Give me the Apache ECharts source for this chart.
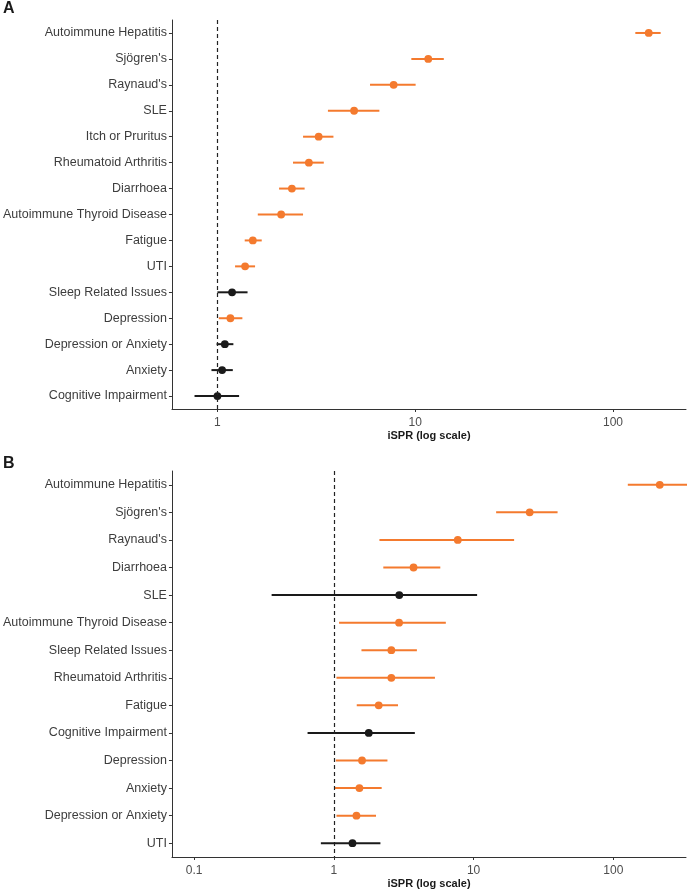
<!DOCTYPE html>
<html><head><meta charset="utf-8">
<script src="https://cdn.jsdelivr.net/npm/echarts@6/dist/echarts.min.js"></script>
<style>html,body{margin:0;padding:0;background:#fff}#c{width:690px;height:890px}</style>
</head><body><div id="c"></div>
<script>
// ---------- Panel A ----------
const categoriesA = ["Autoimmune Hepatitis","Sjögren's","Raynaud's","SLE","Itch or Pruritus","Rheumatoid Arthritis","Diarrhoea","Autoimmune Thyroid Disease","Fatigue","UTI","Sleep Related Issues","Depression","Depression or Anxiety","Anxiety","Cognitive Impairment"];
const estimateA = [151.6, 11.64, 7.78, 4.91, 3.25, 2.90, 2.38, 2.10, 1.51, 1.38, 1.186, 1.163, 1.09, 1.056, 1.00];
const lowerA    = [129.7, 9.56, 5.91, 3.62, 2.71, 2.41, 2.05, 1.60, 1.374, 1.228, 1.00, 1.016, 0.99, 0.933, 0.766];
const upperA    = [174.2, 13.95, 10.05, 6.59, 3.86, 3.45, 2.76, 2.71, 1.675, 1.55, 1.42, 1.337, 1.204, 1.196, 1.287];
const significantA = [1,1,1,1,1,1,1,1,1,1,0,1,0,0,0];
const xTicksA = [1, 10, 100];

// ---------- Panel B ----------
const categoriesB = ["Autoimmune Hepatitis","Sjögren's","Raynaud's","Diarrhoea","SLE","Autoimmune Thyroid Disease","Sleep Related Issues","Rheumatoid Arthritis","Fatigue","Cognitive Impairment","Depression","Anxiety","Depression or Anxiety","UTI"];
const estimateB = [214.8, 25.2, 7.71, 3.72, 2.94, 2.93, 2.58, 2.58, 2.095, 1.778, 1.592, 1.525, 1.452, 1.36];
const lowerB    = [126.9, 14.5, 2.12, 2.26, 0.359, 1.09, 1.577, 1.045, 1.459, 0.649, 1.033, 1.005, 1.045, 0.808];
const upperB    = [380, 39.9, 19.5, 5.78, 10.6, 6.33, 3.93, 5.29, 2.88, 3.80, 2.42, 2.20, 2.004, 2.155];
const significantB = [1,1,1,1,0,1,1,1,1,0,1,1,1,0];
const xTicksB = [0.1, 1, 10, 100];

const axisTitle = "iSPR (log scale)";
const refValue = 1;

const ORANGE = '#F47A2E';
const BLACK = '#1a1a1a';
const FONT = '"Liberation Sans", Arial, sans-serif';

function rows(est, lo, hi, sig){
  return est.map((e, i) => [i, lo[i], hi[i], e, sig[i]]);
}
function renderCI(params, api){
  const y = api.value(0);
  const a = api.coord([api.value(1), y]);
  const b = api.coord([api.value(2), y]);
  const c = api.coord([api.value(3), y]);
  const color = api.value(4) ? ORANGE : BLACK;
  return {type:'group', children:[
    {type:'line', shape:{x1:a[0], y1:a[1], x2:b[0], y2:b[1]}, style:{stroke:color, lineWidth:2}},
    {type:'circle', shape:{cx:c[0], cy:c[1], r:3.9}, style:{fill:color}}
  ]};
}
function xAxisFor(idx, min, max, ticks){
  return {
    gridIndex: idx, type:'log', logBase:10, min:min, max:max,
    axisLine:{show:true, lineStyle:{color:'#333', width:1}},
    axisTick:{show:true, length:3, lineStyle:{color:'#333'}, customValues: ticks},
    axisLabel:{color:'#4d4d4d', fontSize:12, fontFamily:FONT, margin:8, customValues: ticks,
      formatter: v => String(+v.toPrecision(6))},
    splitLine:{show:false}, minorTick:{show:false},
    name: axisTitle, nameLocation:'middle', nameGap:21,
    nameTextStyle:{fontWeight:'bold', fontSize:11, color:'#1a1a1a', fontFamily:FONT}
  };
}
function yAxisFor(idx, cats){
  return {
    gridIndex: idx, type:'category', data:cats, inverse:true,
    axisLine:{show:true, lineStyle:{color:'#333', width:1}},
    axisTick:{show:true, length:3, alignWithLabel:true, lineStyle:{color:'#333'}},
    axisLabel:{color:'#3d3d3d', fontSize:12.5, fontFamily:FONT, margin:5},
    splitLine:{show:false}
  };
}
function seriesFor(idx, data){
  return {
    type:'custom', xAxisIndex:idx, yAxisIndex:idx, clip:true,
    renderItem: renderCI, data: data,
    encode:{x:[1,2,3], y:0},
    markLine:{silent:true, symbol:['none','none'], label:{show:false},
      lineStyle:{type:[4,3], color:'#222', width:1.2},
      data:[{xAxis: refValue}]}
  };
}

const chart = echarts.init(document.getElementById('c'), null, {renderer:'canvas'});
chart.setOption({
  animation:false,
  backgroundColor:'#fff',
  textStyle:{fontFamily:FONT},
  title:[
    {text:'A', left:3, top:1, padding:0, textStyle:{fontSize:16, fontWeight:'bold', color:'#1a1a1a', fontFamily:FONT}},
    {text:'B', left:3, top:456, padding:0, textStyle:{fontSize:16, fontWeight:'bold', color:'#1a1a1a', fontFamily:FONT}}
  ],
  grid:[
    {left:171, right:4, top:20, height:389},
    {left:171, right:4, top:471, height:389}
  ],
  xAxis:[ xAxisFor(0, 0.589, 234, xTicksA), xAxisFor(1, 0.0695, 331, xTicksB) ],
  yAxis:[ yAxisFor(0, categoriesA), yAxisFor(1, categoriesB) ],
  series:[
    seriesFor(0, rows(estimateA, lowerA, upperA, significantA)),
    seriesFor(1, rows(estimateB, lowerB, upperB, significantB))
  ]
});
</script></body></html>
